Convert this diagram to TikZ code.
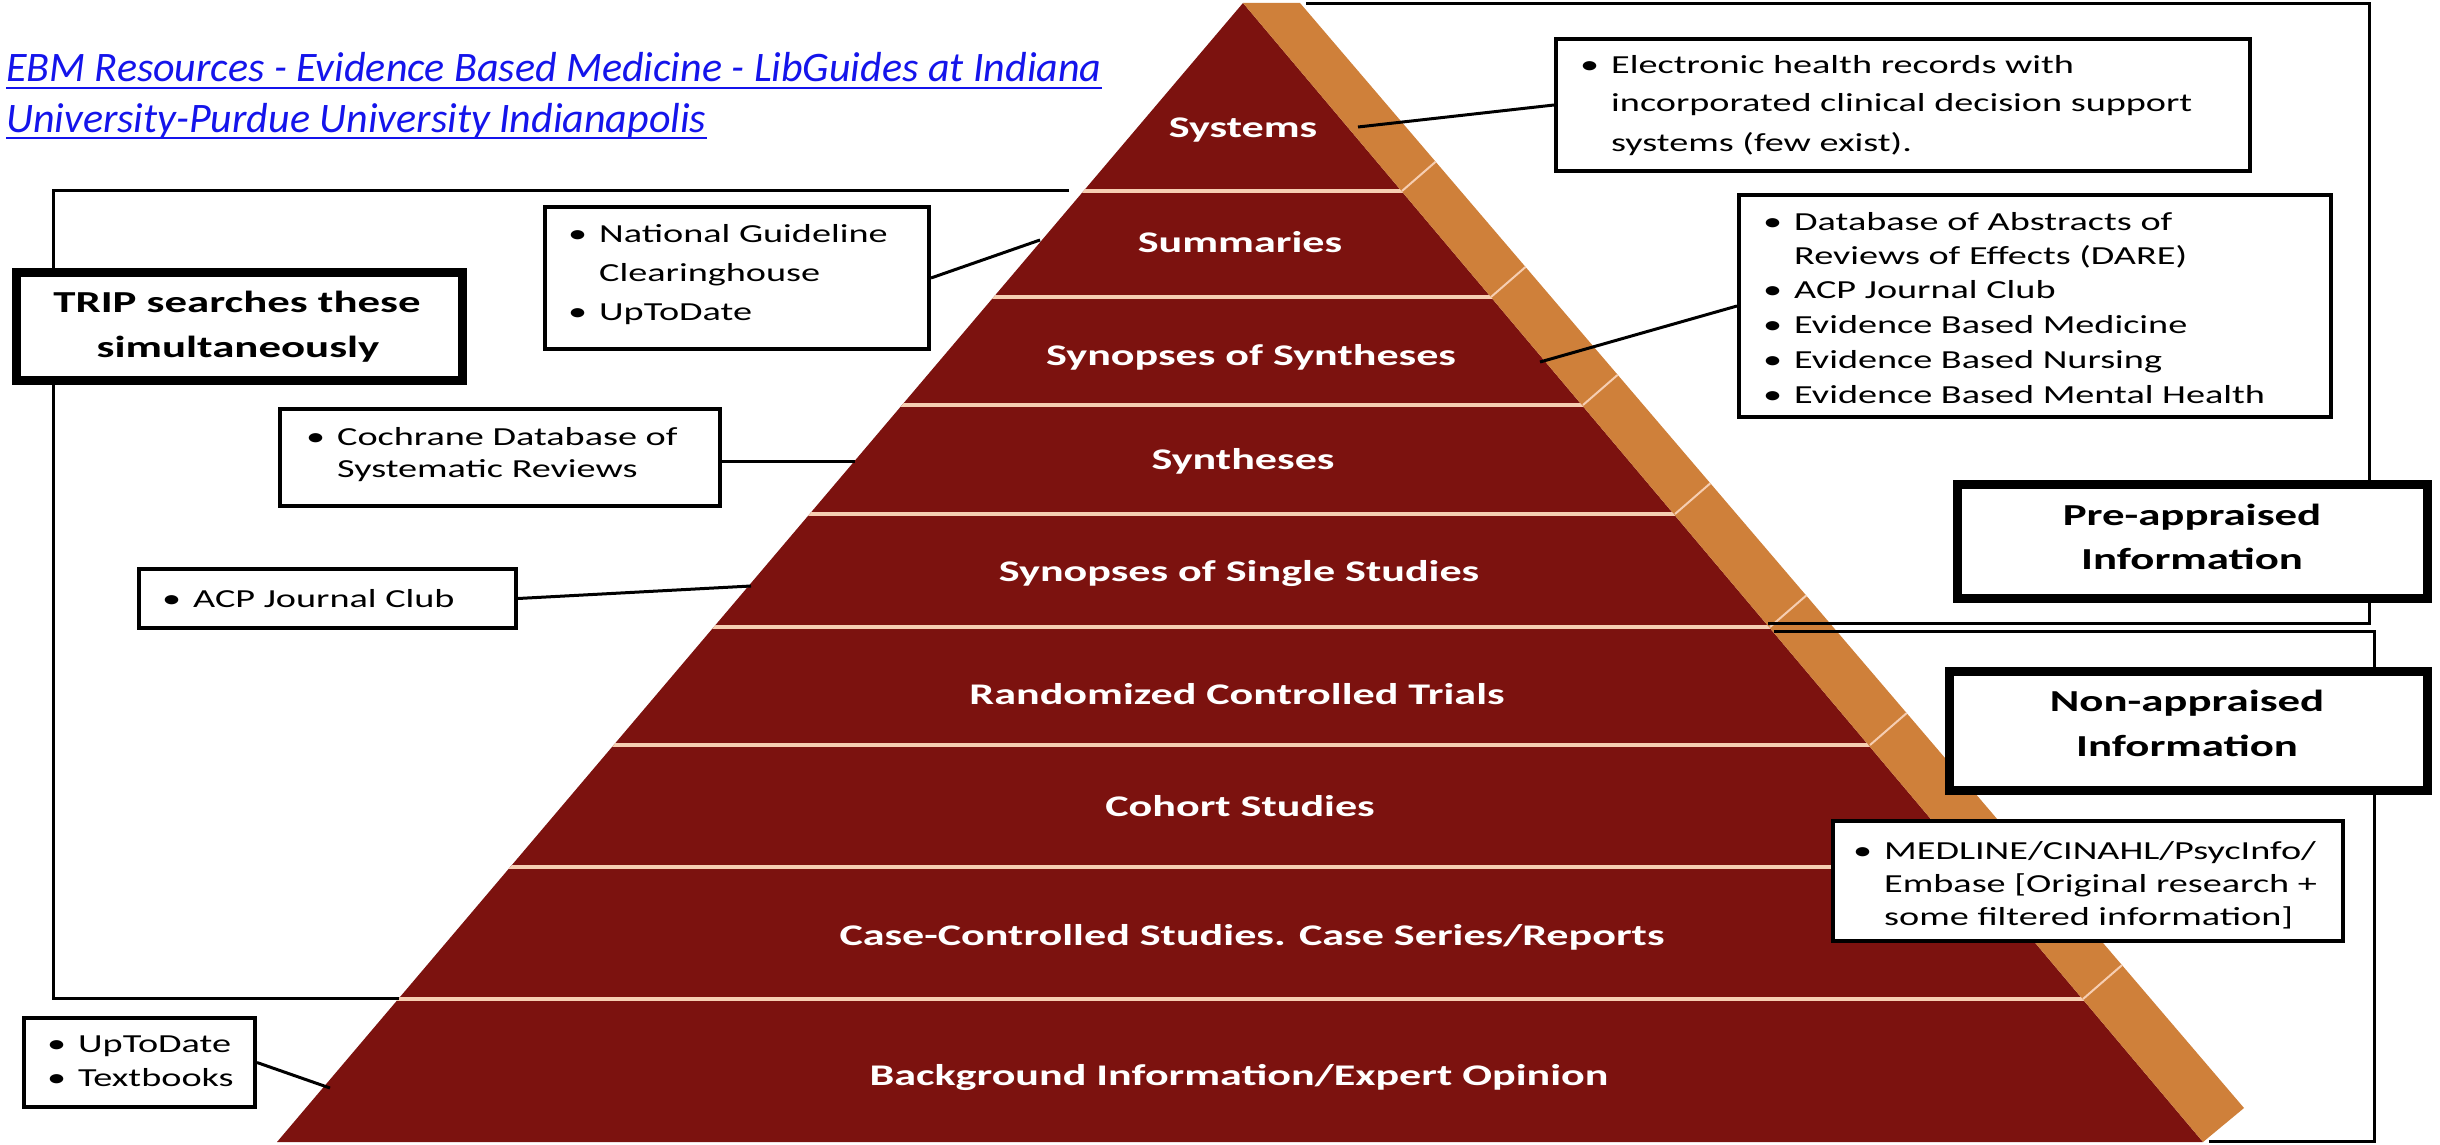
\documentclass[tikz,border=0pt]{standalone}
\usepackage{fontspec}
\setmainfont[FakeStretch=1.47]{Carlito}
\newfontfamily\titlefont{Carlito}
\definecolor{pyrred}{RGB}{124,18,15}
\definecolor{pyrorange}{RGB}{207,128,58}
\definecolor{seplight}{RGB}{246,206,178}
\definecolor{linkblue}{RGB}{20,20,235}
\newcommand{\bl}{\llap{\textbullet\hspace{12pt}}}
\begin{document}
\begin{tikzpicture}[x=1pt,y=-1pt,
  thinbox/.style={draw=black,fill=white,line width=4pt,inner sep=0pt,rectangle},
  thickbox/.style={draw=black,fill=white,line width=9pt,inner sep=0pt,rectangle},
  boxtxt/.style={anchor=base west,inner sep=0pt,font=\fontsize{26}{32}\selectfont},
  boldtxt/.style={anchor=base,inner sep=0pt,font=\fontsize{30.5}{44}\selectfont\bfseries},
  pyrlabel/.style={anchor=base,inner sep=0pt,text=white,font=\fontsize{30}{36}\selectfont\bfseries},
  titletxt/.style={anchor=base west,inner sep=0pt,text=linkblue,font=\titlefont\itshape\fontsize{42}{50}\selectfont},
  conn/.style={draw=black,line width=3pt},
  bracket/.style={draw=black,line width=3pt},
  sepline/.style={draw=seplight,line width=3.5pt},
  bandsep/.style={draw=seplight,line width=2pt},
]
\useasboundingbox[fill=white] (0,0) rectangle (2440,1145);

% ---------- pyramid ----------
\coordinate (apex) at (1243,3);
\coordinate (baseL) at (277,1142);
\coordinate (baseR) at (2203,1142);
\fill[pyrred] (apex) -- (baseR) -- (baseL) -- cycle;
\fill[pyrorange] (apex) -- (1300,3) -- (2244,1108) -- (baseR) -- cycle;
\begin{scope}
  \clip (apex) -- (baseR) -- (baseL) -- cycle;
  \foreach \yy in {191,297,405,514,627,745,867,999}
    \draw[sepline] (0,\yy) -- (2440,\yy);
\end{scope}
\begin{scope}
  \clip (apex) -- (1300,3) -- (2244,1108) -- (baseR) -- cycle;
  \foreach \yy/\xx in {191/1402,297/1491,405/1583,514/1675,627/1770,745/1870,867/1972,999/2083}
    \draw[bandsep] (\xx,\yy) -- ++(46,-40);
\end{scope}

% ---------- pyramid labels ----------
\node[pyrlabel] (lSys) at (1243,138) {Systems};
\node[pyrlabel] (lSum) at (1240,252) {Summaries};
\node[pyrlabel] (lSoS) at (1251,365) {Synopses of Syntheses};
\node[pyrlabel] (lSyn) at (1243,469) {Syntheses};
\node[pyrlabel] (lSSS) at (1239,581) {Synopses of Single Studies};
\node[pyrlabel] (lRCT) at (1237,704) {Randomized Controlled Trials};
\node[pyrlabel] (lCoh) at (1240,816) {Cohort Studies};
\node[pyrlabel] (lCase) at (1252,945) {Case-Controlled Studies. Case Series/Reports};
\node[pyrlabel] (lBg) at (1239,1085) {Background Information/Expert Opinion};

% ---------- brackets ----------
\draw[bracket] (1306,4) -- (2369,4) -- (2369,623) -- (1768,623);
\draw[bracket] (1774,631) -- (2374,631) -- (2374,1141) -- (2209,1141);
\draw[bracket] (1069,190) -- (53,190) -- (53,998) -- (399,998);

% ---------- connector end points on the pyramid ----------
\coordinate (pSys) at (1358,127);
\coordinate (pSum) at (1040,240);
\coordinate (pSoS) at (1540,362);
\coordinate (pSyn) at (855,461);
\coordinate (pSSS) at (751,586);
\coordinate (pBg) at (330,1088);

% ---------- boxes ----------
\node[thinbox,minimum width=694pt,minimum height=132pt] (ehr) at (1903,105) {};
\node[thinbox,minimum width=384pt,minimum height=142pt] (ngc) at (737,278) {};
\node[thinbox,minimum width=592pt,minimum height=222pt] (dare) at (2035,306) {};
\node[thinbox,minimum width=440pt,minimum height=97pt] (coch) at (500,457.5) {};
\node[thinbox,minimum width=377pt,minimum height=59pt] (acp) at (327.5,598.5) {};
\node[thinbox,minimum width=231pt,minimum height=89pt] (utd) at (139.5,1062.5) {};
\node[thinbox,minimum width=510pt,minimum height=120pt] (med) at (2088,881) {};
\node[thickbox,minimum width=446pt,minimum height=108pt] (trip) at (239.5,326.5) {};
\node[thickbox,minimum width=470pt,minimum height=114pt] (pre) at (2192.5,541.5) {};
\node[thickbox,minimum width=478pt,minimum height=119pt] (non) at (2188.5,731) {};

% ---------- connectors ----------
\draw[conn] (ehr.west) -- (pSys);
\draw[conn] (ngc.east) -- (pSum);
\draw[conn] (dare.west) -- (pSoS);
\draw[conn] (coch.east |- pSyn) -- (pSyn);
\draw[conn] (acp.east) -- (pSSS);
\draw[conn] (utd.east) -- (pBg);

% ---------- box texts ----------
\node[boxtxt] (ehr1) at (1611,74) {\bl Electronic health records with};
\node[boxtxt] (ehr2) at (1611,112) {incorporated clinical decision support};
\node[boxtxt] (ehr3) at (1611,151) {systems (few exist).};

\node[boxtxt] (ngc1) at (599,242) {\bl National Guideline};
\node[boxtxt] (ngc2) at (599,281) {Clearinghouse};
\node[boxtxt] (ngc3) at (599,320) {\bl UpToDate};

\node[boxtxt] (dare1) at (1794,230) {\bl Database of Abstracts of};
\node[boxtxt] (dare2) at (1794,264) {Reviews of Effects (DARE)};
\node[boxtxt] (dare3) at (1794,298) {\bl ACP Journal Club};
\node[boxtxt] (dare4) at (1794,333) {\bl Evidence Based Medicine};
\node[boxtxt] (dare5) at (1794,368) {\bl Evidence Based Nursing};
\node[boxtxt] (dare6) at (1794,403) {\bl Evidence Based Mental Health};

\node[boxtxt] (coch1) at (337,445) {\bl Cochrane Database of};
\node[boxtxt] (coch2) at (337,477) {Systematic Reviews};

\node[boxtxt] (acp1) at (193,607) {\bl ACP Journal Club};

\node[boxtxt] (utd1) at (78,1052) {\bl UpToDate};
\node[boxtxt] (utd2) at (78,1086) {\bl Textbooks};

\node[boxtxt] (med1) at (1884,859) {\bl MEDLINE/CINAHL/PsycInfo/};
\node[boxtxt] (med2) at (1884,892) {Embase [Original research +};
\node[boxtxt] (med3) at (1884,925) {some filtered information]};

\node[boldtxt] (trip1) at (237,312) {TRIP searches these};
\node[boldtxt] (trip2) at (238,357) {simultaneously};
\node[boldtxt] (pre1) at (2192,525) {Pre-appraised};
\node[boldtxt] (pre2) at (2192,569) {Information};
\node[boldtxt] (non1) at (2187,711) {Non-appraised};
\node[boldtxt] (non2) at (2187,756) {Information};

% ---------- title link ----------
\node[titletxt] (t1) at (6,82) {EBM Resources - Evidence Based Medicine - LibGuides at Indiana};
\node[titletxt] (t2) at (6,132) {University-Purdue University Indianapolis};
\draw[linkblue,line width=2.5pt] ([yshift=-6pt]t1.base west) -- ([yshift=-6pt]t1.base east);
\draw[linkblue,line width=2.5pt] ([yshift=-6pt]t2.base west) -- ([yshift=-6pt]t2.base east);
\end{tikzpicture}
\end{document}
